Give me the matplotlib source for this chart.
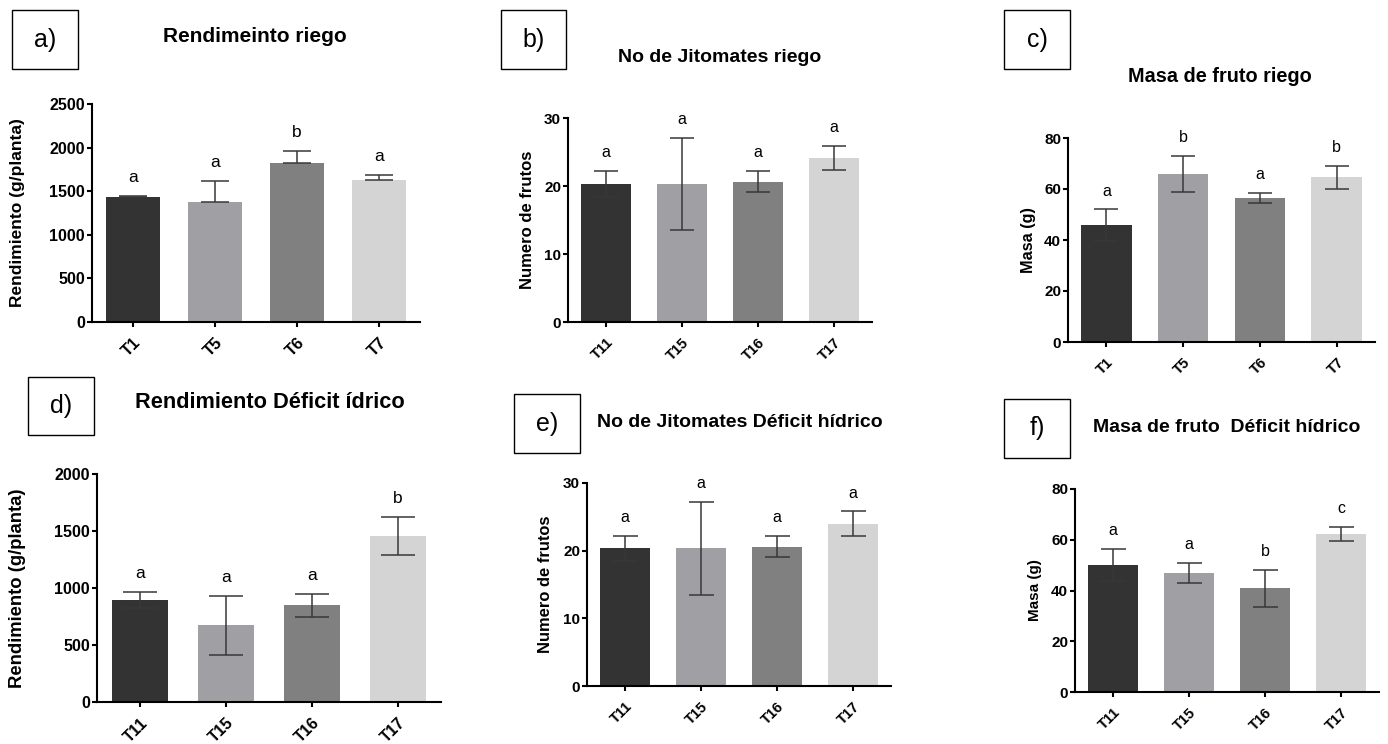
import numpy as np
import matplotlib
matplotlib.use('Agg')
import matplotlib.pyplot as plt
from matplotlib.patches import Rectangle

plt.rcParams['font.family'] = ['Liberation Sans', 'DejaVu Sans']

# ---------------- datos ----------------
trat_riego = ['T1', 'T5', 'T6', 'T7']
trat_deficit = ['T11', 'T15', 'T16', 'T17']

rend_riego = [1436, 1378, 1819, 1627]
rend_riego_err = [10, 238, 141, 58]
rend_riego_letras = ['a', 'a', 'b', 'a']

frutos_riego = [20.3, 20.3, 20.65, 24.1]
frutos_riego_err = [1.85, 6.8, 1.5, 1.8]
frutos_riego_letras = ['a', 'a', 'a', 'a']

masa_riego = [45.8, 65.9, 56.6, 64.6]
masa_riego_err = [6.2, 7.1, 2.0, 4.5]
masa_riego_letras = ['a', 'b', 'a', 'b']

rend_deficit = [893, 672, 850, 1457]
rend_deficit_err = [70, 260, 100, 170]
rend_deficit_letras = ['a', 'a', 'a', 'b']

frutos_deficit = [20.35, 20.35, 20.6, 24.0]
frutos_deficit_err = [1.85, 6.85, 1.55, 1.8]
frutos_deficit_letras = ['a', 'a', 'a', 'a']

masa_deficit = [50.1, 46.8, 40.9, 62.3]
masa_deficit_err = [6.2, 4.0, 7.3, 2.75]
masa_deficit_letras = ['a', 'a', 'b', 'c']

colores = ['#333333', '#a0a0a4', '#808080', '#d4d4d4']

W, H = 1388, 744
fig = plt.figure(figsize=(W / 100, H / 100), dpi=100)

# paneles: (etiqueta, titulo, ylabel, categorias, valores, err, letras, ymax, paso,
#           solo_arriba, ejes px (izq, der, arriba, abajo), caja px, titulo px, ylabel x,
#           capsize, tamaños (titulo, ylabel, ticks x, ticks y, letras))
paneles = [
    ('a)', 'Rendimeinto riego', 'Rendimiento (g/planta)', trat_riego, rend_riego,
     rend_riego_err, rend_riego_letras, 2500, 500, True,
     (92, 420, 104, 322), (12, 78, 10, 69), (255, 37), 18, 10, (15, 12.5, 12, 11.5, 12.5)),
    ('b)', 'No de Jitomates riego', 'Numero de frutos', trat_deficit, frutos_riego,
     frutos_riego_err, frutos_riego_letras, 30, 10, False,
     (568, 872, 118, 322), (501, 566, 10, 69), (720, 57), 527, 8.6, (14, 12, 10.5, 11, 11.5)),
    ('c)', 'Masa de fruto riego', 'Masa (g)', trat_riego, masa_riego,
     masa_riego_err, masa_riego_letras, 80, 20, False,
     (1068, 1375, 138, 342), (1004, 1070, 10, 69), (1220, 76), 1028, 8.6, (14.3, 11.7, 10.5, 11, 11.5)),
    ('d)', 'Rendimiento Déficit ídrico', 'Rendimiento (g/planta)', trat_deficit, rend_deficit,
     rend_deficit_err, rend_deficit_letras, 2000, 500, False,
     (97, 441, 474, 702), (28, 94, 377, 435), (270, 403), 18, 12, (15.7, 13.3, 11.5, 11.5, 12.5)),
    ('e)', 'No de Jitomates Déficit hídrico', 'Numero de frutos', trat_deficit, frutos_deficit,
     frutos_deficit_err, frutos_deficit_letras, 30, 10, False,
     (587, 891, 483, 686), (514, 580, 394, 453), (740, 422), 546, 9, (14, 11.9, 10.5, 11, 11.5)),
    ('f)', 'Masa de fruto  Déficit hídrico', 'Masa (g)', trat_deficit, masa_deficit,
     masa_deficit_err, masa_deficit_letras, 80, 20, False,
     (1075, 1379, 489, 692), (1004, 1070, 399, 458), (1227, 427), 1035, 9, (14, 11, 10.5, 11, 11.5)),
]

for (etq, titulo, ylab, cats, vals, err, letras, ymax, paso, solo_arriba,
     ejes, caja, tpos, ylx, cap, fs) in paneles:
    fs_tit, fs_ylab, fs_xt, fs_yt, fs_let = fs
    l, r, t, b = ejes
    ax = fig.add_axes([l / W, 1 - b / H, (r - l) / W, (b - t) / H])
    x = np.arange(len(cats))
    vals = np.array(vals)
    err = np.array(err)
    yerr = [np.zeros_like(err), err] if solo_arriba else err
    ax.bar(x, vals, width=0.66, color=colores, zorder=2)
    ax.errorbar(x, vals, yerr=yerr, fmt='none', ecolor='#383838', elinewidth=1.1,
                capsize=cap, capthick=1.1, zorder=3)
    for xi, v, e, le in zip(x, vals, err, letras):
        ax.annotate(le, (xi, v + e), xytext=(0, 10), textcoords='offset points',
                    ha='center', va='baseline', fontsize=fs_let)
    ax.set_xlim(-0.5, 3.5)
    ax.set_ylim(0, ymax)
    ax.set_yticks(np.arange(0, ymax + 1, paso))
    ax.set_xticks(x)
    ax.set_xticklabels(cats, rotation=45, ha='right', va='top', rotation_mode='anchor',
                       fontweight='bold', fontsize=fs_xt)
    for lab in ax.get_yticklabels():
        lab.set_fontweight('bold')
        lab.set_fontsize(fs_yt)
    ax.spines['top'].set_visible(False)
    ax.spines['right'].set_visible(False)
    ax.spines['left'].set_linewidth(1.5)
    ax.spines['bottom'].set_linewidth(1.5)
    ax.tick_params(axis='both', width=1.5, length=3.5, pad=1.5)
    ax.tick_params(axis='x', pad=6)

    fig.text(ylx / W, 1 - ((t + b) / 2) / H, ylab, rotation=90, ha='center', va='center',
             fontweight='bold', fontsize=fs_ylab)
    fig.text(tpos[0] / W, 1 - tpos[1] / H, titulo, ha='center', va='center',
             fontweight='bold', fontsize=fs_tit)

    cl, cr, ct, cb = caja
    fig.add_artist(Rectangle((cl / W, 1 - cb / H), (cr - cl) / W, (cb - ct) / H,
                             transform=fig.transFigure, fill=False, ec='black', lw=1.0))
    fig.text((cl + cr) / 2 / W, 1 - ((ct + cb) / 2) / H, etq, ha='center', va='center',
             fontsize=18)

fig.savefig('out.png', dpi=100, facecolor='white')
